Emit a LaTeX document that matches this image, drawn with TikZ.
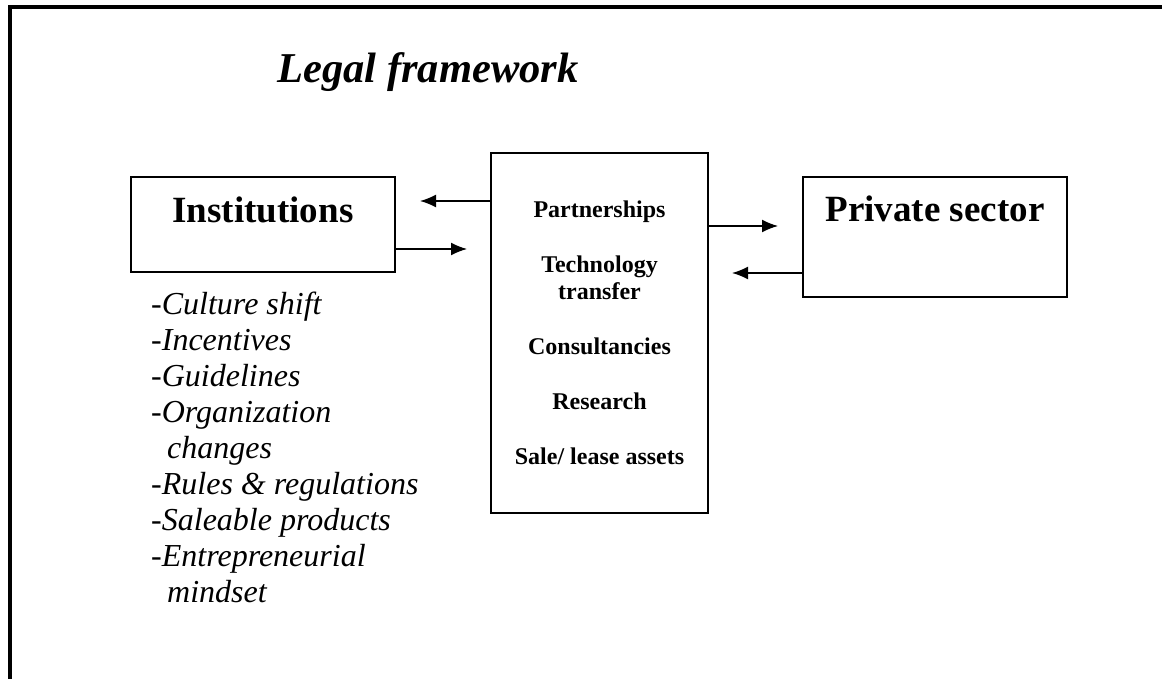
\documentclass[tikz,border=0pt]{standalone}
\usepackage{fontspec}
\setmainfont{Liberation Serif}
\usetikzlibrary{arrows.meta}

\begin{document}
\begin{tikzpicture}[x=1pt,y=-1pt,
	box/.style={draw,line width=1.6pt,inner sep=0pt},
	link/.style={-{Latex[length=16pt,width=13pt]},line width=1.5pt},
	bigtext/.style={font=\fontsize{37}{42}\selectfont\bfseries}]
	\useasboundingbox (0,0) rectangle (1162,679);
	% open frame (left and top only)
	\draw[line width=4pt,line join=miter] (9.5,679) -- (9.5,7) -- (1162,7);
	%
	\node[font=\fontsize{42.5}{48}\selectfont\bfseries\itshape,anchor=base] (title) at (428,83) {Legal framework};
	%
	\node[box,bigtext,minimum width=264pt,minimum height=95pt,text height=25pt,text depth=28pt] (inst) at (263,224.5) {Institutions};
	\node[box,minimum width=217pt,minimum height=360pt,align=center,
		font=\fontsize{24}{27.5}\selectfont\bfseries] (mid) at (599.5,333)
		{Partnerships\\[27.5pt]Technology\\transfer\\[27.5pt]Consultancies\\[27.5pt]Research\\[27.5pt]Sale/ lease assets};
	\node[box,bigtext,minimum width=264pt,minimum height=120pt,text height=25pt,text depth=55pt] (priv) at (935,237) {Private sector};
	%
	\node[anchor=north west,inner sep=0pt,align=left,font=\fontsize{32}{36}\selectfont\itshape] (traits) at (151,292)
		{-Culture shift\\-Incentives\\-Guidelines\\-Organization\\\hspace*{16pt}changes\\-Rules \& regulations\\-Saleable products\\-Entrepreneurial\\\hspace*{16pt}mindset};
	%
	\coordinate (tip1) at (420,201);
	\coordinate (tip2) at (467,249);
	\coordinate (tip3) at (778,226);
	\coordinate (tip4) at (732,273);
	\draw[link] (mid.west |- tip1) -- (tip1);
	\draw[link] (inst.east |- tip2) -- (tip2);
	\draw[link] (mid.east |- tip3) -- (tip3);
	\draw[link] (priv.west |- tip4) -- (tip4);
\end{tikzpicture}
\end{document}
